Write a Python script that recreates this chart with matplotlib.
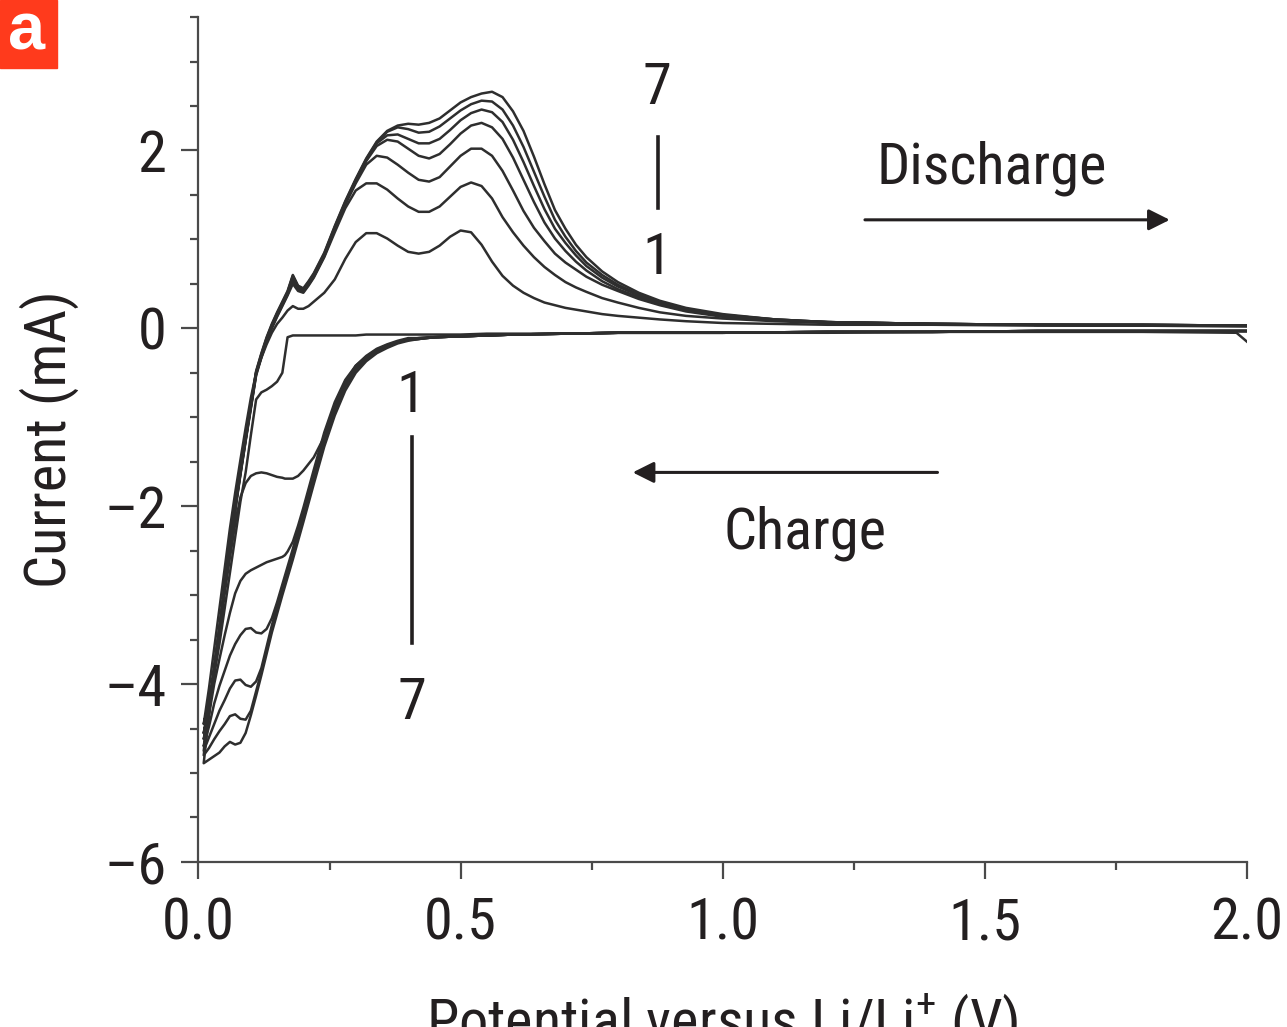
import matplotlib
matplotlib.use("Agg")
import matplotlib.pyplot as plt
from matplotlib.ticker import MultipleLocator, FormatStrFormatter, FuncFormatter
from matplotlib.patches import Rectangle

# Cyclic voltammetry, cycles 1-7
# potential grid (V) for the cathodic sweep (2.0 -> 0.01 V)
cath_v = [2.00, 1.98, 1.80, 1.60, 1.40, 1.20, 1.00, 0.80, 0.70, 0.60, 0.55, 0.50, 0.45,
          0.42, 0.40, 0.38, 0.36, 0.34, 0.32, 0.30, 0.28, 0.26, 0.24, 0.22, 0.20, 0.19,
          0.18, 0.17, 0.165, 0.16, 0.15, 0.14, 0.13, 0.12, 0.11, 0.10, 0.09, 0.08, 0.07,
          0.06, 0.05, 0.04, 0.03, 0.02, 0.01]

cath_1 = [-0.15, -0.05, -0.04, -0.04, -0.04, -0.05, -0.05, -0.05, -0.06, -0.06, -0.06, -0.07, -0.07,
          -0.07, -0.07, -0.07, -0.07, -0.07, -0.07, -0.08, -0.08, -0.08, -0.08, -0.08, -0.08, -0.08,
          -0.08, -0.10, -0.30, -0.50, -0.60, -0.65, -0.69, -0.72, -0.80, -1.20, -1.62, -1.95, -2.35,
          -2.75, -3.15, -3.55, -3.90, -4.20, -4.45]
cath_2 = [-0.03, -0.03, -0.03, -0.03, -0.04, -0.04, -0.05, -0.05, -0.06, -0.07, -0.08, -0.09, -0.10,
          -0.11, -0.11, -0.14, -0.18, -0.23, -0.31, -0.42, -0.62, -0.90, -1.22, -1.45, -1.60, -1.66,
          -1.69, -1.69, -1.69, -1.68, -1.67, -1.65, -1.63, -1.62, -1.63, -1.66, -1.74, -1.90, -2.20,
          -2.58, -2.98, -3.42, -3.85, -4.25, -4.55]
cath_3 = [-0.03, -0.03, -0.03, -0.03, -0.04, -0.04, -0.05, -0.05, -0.06, -0.07, -0.08, -0.09, -0.10,
          -0.11, -0.12, -0.15, -0.19, -0.24, -0.32, -0.42, -0.58, -0.83, -1.17, -1.59, -2.02, -2.22,
          -2.40, -2.51, -2.55, -2.57, -2.59, -2.61, -2.63, -2.66, -2.69, -2.72, -2.76, -2.84, -2.98,
          -3.20, -3.45, -3.72, -4.00, -4.35, -4.62]
cath_4 = [-0.03, -0.03, -0.03, -0.03, -0.04, -0.04, -0.05, -0.05, -0.06, -0.07, -0.08, -0.09, -0.10,
          -0.11, -0.12, -0.15, -0.19, -0.25, -0.33, -0.43, -0.60, -0.86, -1.21, -1.63, -2.06, -2.27,
          -2.48, -2.68, -2.78, -2.88, -3.08, -3.26, -3.38, -3.43, -3.42, -3.37, -3.38, -3.45, -3.55,
          -3.68, -3.85, -4.02, -4.22, -4.48, -4.70]
cath_5 = [-0.03, -0.03, -0.03, -0.03, -0.04, -0.04, -0.05, -0.05, -0.06, -0.07, -0.08, -0.09, -0.10,
          -0.12, -0.13, -0.16, -0.20, -0.26, -0.34, -0.45, -0.63, -0.90, -1.25, -1.67, -2.10, -2.31,
          -2.52, -2.72, -2.82, -2.92, -3.13, -3.34, -3.58, -3.82, -3.97, -4.03, -4.01, -3.95, -3.96,
          -4.05, -4.18, -4.30, -4.45, -4.60, -4.75]
cath_6 = [-0.03, -0.03, -0.03, -0.03, -0.04, -0.04, -0.05, -0.05, -0.06, -0.07, -0.08, -0.09, -0.10,
          -0.12, -0.13, -0.16, -0.21, -0.27, -0.35, -0.47, -0.66, -0.94, -1.29, -1.71, -2.14, -2.35,
          -2.56, -2.76, -2.86, -2.96, -3.17, -3.38, -3.62, -3.86, -4.08, -4.30, -4.40, -4.39, -4.34,
          -4.36, -4.45, -4.53, -4.62, -4.72, -4.80]
cath_7 = [-0.03, -0.03, -0.03, -0.03, -0.04, -0.04, -0.05, -0.05, -0.06, -0.07, -0.08, -0.09, -0.10,
          -0.12, -0.14, -0.17, -0.22, -0.28, -0.37, -0.50, -0.70, -0.98, -1.33, -1.75, -2.18, -2.39,
          -2.60, -2.80, -2.90, -3.00, -3.21, -3.42, -3.66, -3.90, -4.13, -4.35, -4.55, -4.66, -4.68,
          -4.65, -4.70, -4.77, -4.81, -4.85, -4.89]

# potential grid (V) for the anodic sweep (0.01 -> 2.0 V)
anod_v = [0.01, 0.02, 0.03, 0.04, 0.05, 0.06, 0.07, 0.08, 0.09, 0.10, 0.11, 0.12, 0.13, 0.14,
          0.15, 0.16, 0.17, 0.18, 0.19, 0.20, 0.21, 0.22, 0.24, 0.26, 0.28, 0.30, 0.32, 0.34,
          0.36, 0.38, 0.40, 0.42, 0.44, 0.46, 0.48, 0.50, 0.52, 0.54, 0.56, 0.58, 0.60, 0.62,
          0.64, 0.66, 0.68, 0.70, 0.72, 0.74, 0.77, 0.80, 0.84, 0.88, 0.93, 1.00, 1.10, 1.20,
          1.40, 1.60, 1.80, 2.00]

anod_1 = [-4.45, -4.05, -3.60, -3.15, -2.70, -2.25, -1.85, -1.48, -1.12, -0.78, -0.50, -0.33, -0.18, -0.05,
          0.05, 0.12, 0.20, 0.25, 0.22, 0.22, 0.25, 0.30, 0.40, 0.55, 0.78, 0.97, 1.07, 1.07,
          1.01, 0.93, 0.86, 0.84, 0.86, 0.93, 1.03, 1.10, 1.08, 0.94, 0.75, 0.59, 0.48, 0.40,
          0.34, 0.29, 0.26, 0.23, 0.21, 0.19, 0.16, 0.14, 0.12, 0.10, 0.08, 0.06, 0.05, 0.04,
          0.04, 0.03, 0.03, 0.02]
anod_2 = [-4.55, -4.25, -3.80, -3.36, -2.92, -2.45, -2.05, -1.65, -1.27, -0.90, -0.53, -0.33, -0.15, 0.00,
          0.13, 0.25, 0.37, 0.50, 0.42, 0.40, 0.48, 0.57, 0.80, 1.08, 1.35, 1.55, 1.63, 1.63,
          1.56, 1.46, 1.37, 1.31, 1.31, 1.37, 1.48, 1.59, 1.64, 1.60, 1.46, 1.25, 1.08, 0.93,
          0.80, 0.69, 0.60, 0.52, 0.46, 0.41, 0.34, 0.29, 0.23, 0.18, 0.14, 0.11, 0.08, 0.06,
          0.05, 0.04, 0.03, 0.03]
anod_3 = [-4.62, -4.28, -3.82, -3.37, -2.92, -2.44, -2.04, -1.64, -1.26, -0.89, -0.52, -0.32, -0.14, 0.01,
          0.14, 0.26, 0.38, 0.54, 0.44, 0.41, 0.49, 0.58, 0.81, 1.11, 1.39, 1.63, 1.84, 1.94,
          1.92, 1.84, 1.75, 1.67, 1.65, 1.70, 1.82, 1.94, 2.02, 2.02, 1.94, 1.77, 1.55, 1.32,
          1.13, 0.98, 0.84, 0.74, 0.66, 0.58, 0.49, 0.42, 0.33, 0.26, 0.19, 0.13, 0.09, 0.07,
          0.05, 0.04, 0.03, 0.03]
anod_4 = [-4.70, -4.30, -3.83, -3.38, -2.91, -2.43, -2.03, -1.63, -1.25, -0.88, -0.51, -0.31, -0.13, 0.02,
          0.15, 0.27, 0.39, 0.56, 0.45, 0.42, 0.50, 0.59, 0.82, 1.12, 1.40, 1.65, 1.88, 2.05,
          2.12, 2.10, 2.02, 1.94, 1.91, 1.96, 2.07, 2.19, 2.28, 2.31, 2.26, 2.13, 1.92, 1.67,
          1.42, 1.19, 1.01, 0.87, 0.75, 0.65, 0.53, 0.44, 0.35, 0.27, 0.20, 0.14, 0.09, 0.07,
          0.05, 0.04, 0.04, 0.03]
anod_5 = [-4.75, -4.32, -3.84, -3.39, -2.91, -2.42, -2.02, -1.62, -1.24, -0.87, -0.50, -0.30, -0.12, 0.03,
          0.16, 0.28, 0.40, 0.58, 0.46, 0.43, 0.51, 0.60, 0.83, 1.13, 1.41, 1.66, 1.89, 2.08,
          2.17, 2.18, 2.13, 2.08, 2.08, 2.13, 2.23, 2.34, 2.42, 2.46, 2.43, 2.32, 2.12, 1.87,
          1.60, 1.34, 1.12, 0.96, 0.82, 0.70, 0.57, 0.47, 0.37, 0.29, 0.21, 0.15, 0.10, 0.07,
          0.05, 0.04, 0.04, 0.03]
anod_6 = [-4.80, -4.33, -3.84, -3.39, -2.90, -2.41, -2.01, -1.61, -1.23, -0.86, -0.49, -0.29, -0.11, 0.04,
          0.17, 0.29, 0.41, 0.59, 0.47, 0.44, 0.52, 0.61, 0.84, 1.14, 1.42, 1.67, 1.90, 2.09,
          2.21, 2.26, 2.24, 2.20, 2.21, 2.27, 2.36, 2.45, 2.52, 2.56, 2.55, 2.46, 2.28, 2.04,
          1.76, 1.48, 1.22, 1.03, 0.87, 0.74, 0.60, 0.49, 0.38, 0.30, 0.22, 0.15, 0.10, 0.07,
          0.05, 0.04, 0.04, 0.03]
anod_7 = [-4.89, -4.35, -3.85, -3.40, -2.90, -2.40, -2.00, -1.60, -1.22, -0.85, -0.48, -0.28, -0.10, 0.05,
          0.18, 0.30, 0.42, 0.60, 0.48, 0.45, 0.53, 0.62, 0.85, 1.15, 1.43, 1.68, 1.91, 2.10,
          2.22, 2.28, 2.30, 2.29, 2.31, 2.36, 2.45, 2.54, 2.60, 2.64, 2.66, 2.60, 2.44, 2.22,
          1.93, 1.62, 1.33, 1.12, 0.94, 0.80, 0.64, 0.52, 0.40, 0.31, 0.23, 0.16, 0.10, 0.07,
          0.05, 0.04, 0.04, 0.03]

cathodic = [cath_1, cath_2, cath_3, cath_4, cath_5, cath_6, cath_7]
anodic = [anod_1, anod_2, anod_3, anod_4, anod_5, anod_6, anod_7]

x_ticks = [0.0, 0.5, 1.0, 1.5, 2.0]
y_ticks = [-6, -4, -2, 0, 2]

FONT = ["Roboto Condensed", "Liberation Sans", "DejaVu Sans"]
INK = "#231f20"
LINE = "#2e2e2e"
FS = 42

plt.rcParams["font.family"] = FONT
plt.rcParams["mathtext.fontset"] = "custom"
plt.rcParams["mathtext.rm"] = "Roboto Condensed"

fig = plt.figure(figsize=(12.87, 10.27), dpi=100)
ax = fig.add_axes([0.1542, 0.1607, 0.8147, 0.8227])

# one continuous line per cycle: cathodic sweep then anodic sweep
for c_i, a_i in zip(cathodic, anodic):
    ax.plot(cath_v + anod_v, c_i + a_i, color=LINE, lw=1.8, solid_joinstyle="round")

ax.set_xlim(0, 2.0)
ax.set_ylim(-6, 3.5)

for side in ["top", "right"]:
    ax.spines[side].set_visible(False)
for side in ["left", "bottom"]:
    ax.spines[side].set_color("#4a4a4a")
    ax.spines[side].set_linewidth(1.6)

ax.set_xticks(x_ticks)
ax.set_yticks(y_ticks)
ax.xaxis.set_major_formatter(FormatStrFormatter("%.1f"))
# long dash for negative numbers, as in the figure
ax.yaxis.set_major_formatter(FuncFormatter(lambda v, p: f"{v:g}".replace("-", "\u2013")))
ax.xaxis.set_minor_locator(MultipleLocator(0.25))
ax.yaxis.set_minor_locator(MultipleLocator(0.5))
ax.tick_params(which="major", direction="out", length=12, width=1.6, color="#4a4a4a",
               labelsize=FS, labelcolor=INK)
ax.tick_params(which="minor", direction="out", length=6, width=1.6, color="#4a4a4a")
ax.tick_params(axis="y", which="major", pad=11)
ax.tick_params(axis="x", which="major", pad=13)

ax.set_ylabel("Current (mA)", fontsize=FS, color=INK, labelpad=18)
ax.set_xlabel(r"Potential versus Li/Li$^{\mathrm{+}}$ (V)", fontsize=FS, color=INK, labelpad=29)

# cycle number markers
ax.text(0.875, 2.70, "7", fontsize=FS, color=INK, ha="center", va="center")
ax.plot([0.876, 0.876], [2.15, 1.35], color=INK, lw=2.6)
ax.text(0.875, 0.79, "1", fontsize=FS, color=INK, ha="center", va="center")

ax.text(0.406, -0.77, "1", fontsize=FS, color=INK, ha="center", va="center")
ax.plot([0.408, 0.408], [-1.22, -3.54], color=INK, lw=2.6)
ax.text(0.408, -4.22, "7", fontsize=FS, color=INK, ha="center", va="center")

# sweep direction
ax.text(1.293, 1.63, "Discharge", fontsize=FS, color=INK, ha="left", va="baseline")
ax.annotate("", xy=(1.858, 1.22), xytext=(1.266, 1.22),
            arrowprops=dict(arrowstyle="-|>", color=INK, lw=2.2, mutation_scale=32))
ax.text(1.001, -2.47, "Charge", fontsize=FS, color=INK, ha="left", va="baseline")
ax.annotate("", xy=(0.823, -1.62), xytext=(1.415, -1.62),
            arrowprops=dict(arrowstyle="-|>", color=INK, lw=2.2, mutation_scale=32))

# panel label
fig.patches.append(Rectangle((0, 1 - 68 / 1027), 57 / 1287, 68 / 1027,
                             transform=fig.transFigure, color="#ff3a1c", zorder=5))
fig.text(27 / 1287, 1 - 33 / 1027, "a", fontsize=48, fontweight="bold", color="white",
         ha="center", va="center", family=["Liberation Sans", "DejaVu Sans"], zorder=6)

fig.savefig("out.png", dpi=100)
